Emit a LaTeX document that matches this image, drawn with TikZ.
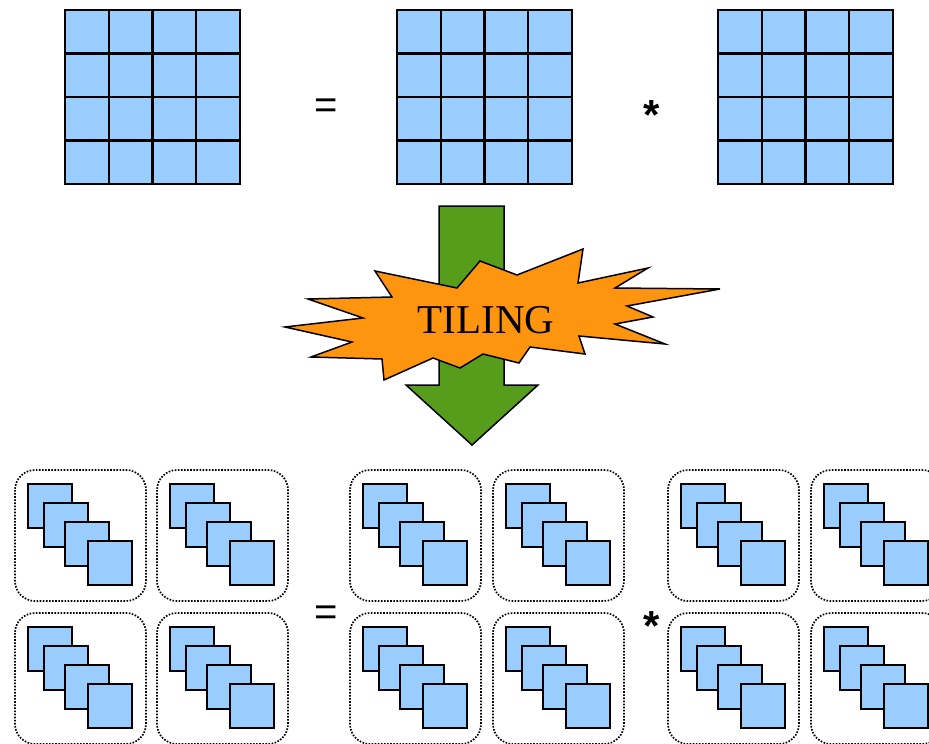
\documentclass[tikz,border=0pt]{standalone}
\usepackage{fontspec}
\setmainfont{Liberation Serif}
\newfontfamily\symfont{Liberation Sans}
\definecolor{cellblue}{HTML}{99CCFF}
\definecolor{arrowgreen}{HTML}{579D1C}
\definecolor{burstorange}{HTML}{FF950E}
\tikzset{
  cell/.style={draw=black, fill=cellblue, line width=2.4pt},
  tile/.style={draw=black, fill=cellblue, line width=2.4pt},
  tilebox/.style={draw=black, line width=1.7pt, dash pattern=on 1.6pt off 1.5pt, rounded corners=20pt},
  bigarrow/.style={draw=black, fill=arrowgreen, line width=1.5pt, line join=miter},
  burst/.style={draw=black, fill=burstorange, line width=1.5pt, line join=miter},
  optext/.style={font=\symfont\fontsize{40}{48}\selectfont, inner sep=0pt},
  startext/.style={font=\symfont\bfseries\fontsize{42}{48}\selectfont, inner sep=0pt},
}
\begin{document}
\begin{tikzpicture}[x=1pt,y=-1pt]
\useasboundingbox (0,0) rectangle (929,744);
\clip (0,0) rectangle (929,744);
% top matrices
\foreach \gx in {65,397,718} {
  \foreach \i in {0,...,3} {
    \foreach \j in {0,...,3} {
      \draw[cell] ({\gx+\i*43.75},{10+\j*43.5}) rectangle ++(43.75,43.5);
    }
  }
}
\node[optext] (eqtop) at (326,109) {=};
\node[startext] (startop) at (652,115) {*};
% green arrow
\draw[bigarrow] (439,206) -- (504,206) -- (504,385) -- (538,385) -- (472,445)
  -- (406,385) -- (439,385) -- cycle;
% starburst
\draw[burst] (285,327) -- (363,318) -- (308,299) -- (392,297) -- (375,271)
  -- (457,288) -- (480,261) -- (517,275) -- (583,249) -- (578,283)
  -- (648,268) -- (615,288) -- (720,289) -- (627,306) -- (653,317)
  -- (615,324) -- (665,344) -- (579,336) -- (585,354) -- (530,347)
  -- (519,363) -- (483,354) -- (460,368) -- (433,358) -- (384,380)
  -- (382,359) -- (311,357) -- (352,342) -- cycle;
\node[font=\fontsize{41}{48}\selectfont, inner sep=0pt] (tiling) at (486,320) {TILING};
% bottom tiled matrices
\foreach \bx in {15,157,350,493,668,811} {
  \foreach \by in {470,613} {
    \draw[tilebox] (\bx,\by) rectangle ++(131,131);
    \foreach \ox/\oy in {13/14,29/33,50/52,73/71} {
      \draw[tile] ({\bx+\ox},{\by+\oy}) rectangle ++(44,44);
    }
  }
}
\node[optext] (eqbot) at (326,616) {=};
\node[startext] (starbot) at (652,626) {*};
\end{tikzpicture}
\end{document}
